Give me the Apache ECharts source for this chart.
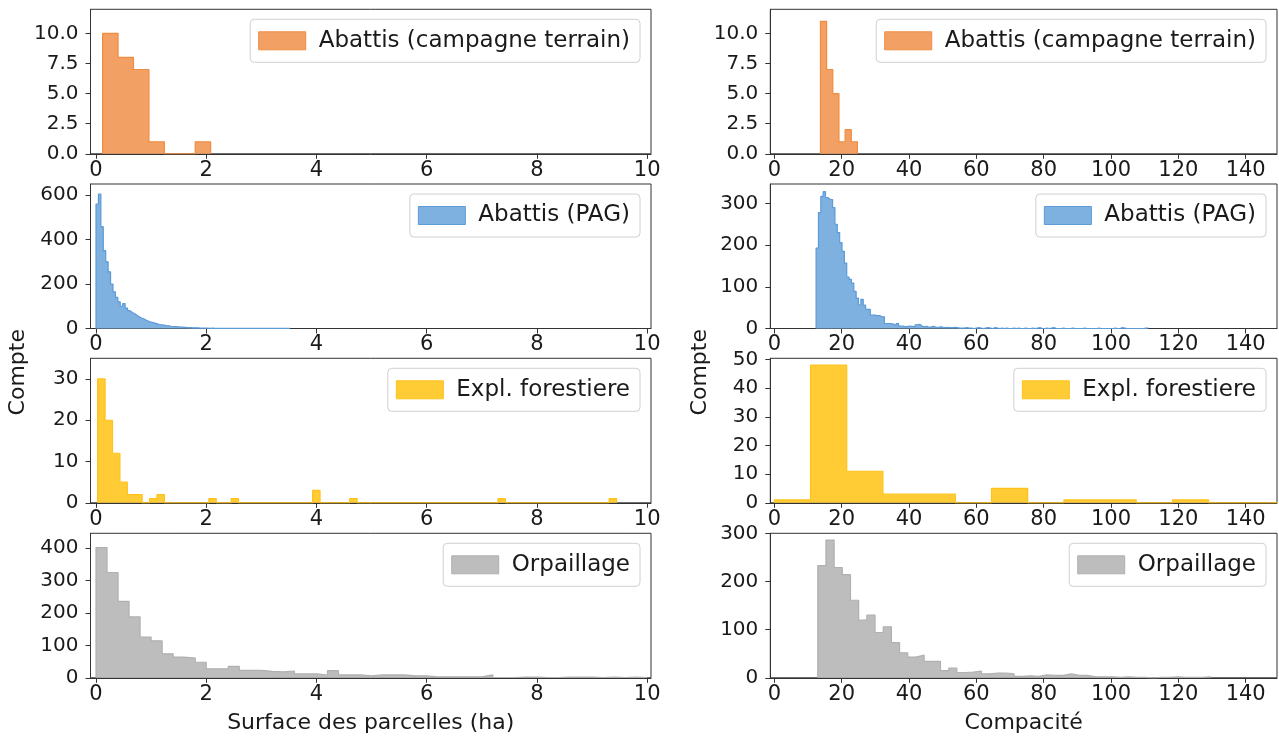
<!DOCTYPE html>
<html><head><meta charset="utf-8">
<script src="https://cdn.jsdelivr.net/npm/echarts@6/dist/echarts.min.js"></script>
<style>html,body{margin:0;padding:0;background:#fff}#c{width:1279px;height:744px}</style>
</head><body><div id="c"></div>
<script>
// ---- names & colours ----
const seriesNames = ['Abattis (campagne terrain)', 'Abattis (PAG)', 'Expl. forestiere', 'Orpaillage'];
const fillColors = ['#f2a064', '#7eb0e0', '#ffcc36', '#bdbdbd'];
const edgeColors = ['#f08c40', '#5b9bd8', '#ffc21a', '#b0b0b0'];

// ---- Surface des parcelles (ha): bin start, bin width, counts ----
const surfCampStart = 0.12, surfCampWidth = 0.28;
const surfCampCounts = [10, 8, 7, 1, 0, 0, 1];

const surfPagStart = 0.0, surfPagWidth = 0.044;
const surfPagCounts = [560, 605, 458, 350, 300, 255, 200, 165, 140, 120, 100, 112, 92, 80, 72, 66, 58, 52, 46, 42,
  36, 31, 28, 25, 22, 19, 17, 15, 13, 12, 10, 9, 8, 7, 6, 6, 5, 4, 4, 3,
  3, 3, 2, 2, 2, 2, 1, 2, 1, 1, 1, 1, 1, 1, 1, 1, 1, 1, 1, 1,
  1, 1, 1, 1, 1, 1, 1, 1, 1, 1, 1, 1, 1, 1, 1, 1, 1, 1, 1, 1];

const surfForStart = 0.03, surfForWidth = 0.1345;
const surfForCounts = [30, 20, 12, 5, 2, 2, 0, 1, 2, 0, 0, 0, 0, 0, 0, 1, 0, 0, 1, 0,
  0, 0, 0, 0, 0, 0, 0, 0, 0, 3, 0, 0, 0, 0, 1, 0, 0, 0, 0, 0,
  0, 0, 0, 0, 0, 0, 0, 0, 0, 0, 0, 0, 0, 0, 1, 0, 0, 0, 0, 0,
  0, 0, 0, 0, 0, 0, 0, 0, 0, 1];

const surfOrpStart = 0.0, surfOrpWidth = 0.2;
const surfOrpCounts = [402, 325, 236, 188, 126, 114, 74, 64, 61, 48, 28, 28, 35, 23, 23, 20, 18, 21, 12, 12,
  8, 22, 9, 9, 6, 9, 9, 9, 6, 6, 3, 3, 3, 3, 3, 9, 1, 1, 2, 2,
  1, 1, 2, 2, 2, 1, 2, 1, 2, 1];

// ---- Compacité: bin start, bin width, counts ----
const compCampStart = 13.7, compCampWidth = 1.83;
const compCampCounts = [11, 7, 5, 1, 2, 1];

const compPagStart = 12.4, compPagWidth = 0.7;
const compPagCounts = [193, 278, 317, 328, 314, 310, 309, 290, 250, 230, 206, 185, 157, 123, 118, 109, 89, 73, 56, 70,
  56, 46, 46, 32, 32, 31, 31, 28, 28, 12, 12, 12, 10, 7, 12, 6, 6, 4,
  5, 6, 5, 4, 9, 10, 6, 4, 5, 3, 4, 5, 3, 3, 4, 3, 2, 3, 2, 2, 3, 2, 1,
  1, 1, 2, 1, 1, 0, 1, 2, 1, 0, 1, 2, 1, 0, 2, 1, 0, 1, 0, 1,
  0, 0, 1, 0, 1, 0, 0, 1, 0, 0, 1, 0, 1, 2, 0, 0, 1, 0, 1, 2,
  0, 0, 0, 1, 0, 0, 0, 1, 0, 0, 0, 0, 1, 0, 0, 0, 0, 0, 1, 0,
  0, 0, 0, 0, 0, 1, 0, 0, 2, 1, 0, 0, 0, 0, 0, 0, 0, 0, 1, 1];

const compForStart = 0.0, compForWidth = 10.75;
const compForCounts = [1, 48, 11, 3, 3, 0, 5, 0, 1, 1, 0, 1, 0, 0];

const compOrpStart = 12.9, compOrpWidth = 2.43;
const compOrpCounts = [233, 286, 229, 214, 161, 120, 130, 94, 106, 73, 52, 43, 47, 34, 34, 15, 20, 11, 12, 14,
  8, 10, 10, 8, 3, 4, 3, 6, 5, 5, 8, 5, 5, 2, 2, 2, 1, 2, 1, 1,
  0, 1, 1, 2, 1, 1, 1, 2];

// ---- ticks ----
const surfTicks = [0, 2, 4, 6, 8, 10];
const compTicks = [0, 20, 40, 60, 80, 100, 120, 140];
const yTicksLeft = [[0, 2.5, 5, 7.5, 10], [0, 200, 400, 600], [0, 10, 20, 30], [0, 100, 200, 300, 400]];
const yTicksRight = [[0, 2.5, 5, 7.5, 10], [0, 100, 200, 300], [0, 10, 20, 30, 40, 50], [0, 100, 200, 300]];
const yMaxLeft = [12, 650, 35, 446];
const yMaxRight = [12, 346.5, 50.4, 300];

const leftHists = [
  [surfCampStart, surfCampWidth, surfCampCounts],
  [surfPagStart, surfPagWidth, surfPagCounts],
  [surfForStart, surfForWidth, surfForCounts],
  [surfOrpStart, surfOrpWidth, surfOrpCounts]
];
const rightHists = [
  [compCampStart, compCampWidth, compCampCounts],
  [compPagStart, compPagWidth, compPagCounts],
  [compForStart, compForWidth, compForCounts],
  [compOrpStart, compOrpWidth, compOrpCounts]
];

function stepPoints(start, width, counts) {
  const pts = [[start, 0]];
  counts.forEach((c, i) => {
    pts.push([start + i * width, c]);
    pts.push([start + (i + 1) * width, c]);
  });
  pts.push([start + counts.length * width, 0]);
  return pts;
}

const FONT = 'DejaVu Sans';
const TXT = '#1a1a1a';
const AX = '#333';
const rowTops = [9.3, 184, 358.3, 533.3];
const rowH = 144.5;
const colLeft = [90.5, 770.3];
const colW = [560.5, 506.7];

const grids = [], xAxes = [], yAxes = [], series = [], legends = [];
for (let r = 0; r < 4; r++) {
  for (let c = 0; c < 2; c++) {
    const gi = grids.length;
    grids.push({left: colLeft[c], top: rowTops[r], width: colW[c], height: rowH,
      show: true, borderColor: AX, borderWidth: 1, containLabel: false});
    const ticksX = c === 0 ? surfTicks : compTicks;
    xAxes.push({
      type: 'value', gridIndex: gi,
      min: c === 0 ? -0.1 : -1.2, max: c === 0 ? 10.07 : 149.3,
      axisLine: {show: true, onZero: false, lineStyle: {color: AX, width: 1}},
      axisTick: {show: true, inside: false, length: 5, customValues: ticksX, lineStyle: {color: AX}},
      axisLabel: {customValues: ticksX, fontFamily: FONT, fontSize: 21, color: TXT, margin: 6},
      splitLine: {show: false},
      name: r === 3 ? (c === 0 ? 'Surface des parcelles (ha)' : 'Compacité') : '',
      nameLocation: 'middle', nameGap: 34,
      nameTextStyle: {fontFamily: FONT, fontSize: 22, color: TXT}
    });
    const ticksY = c === 0 ? yTicksLeft[r] : yTicksRight[r];
    yAxes.push({
      type: 'value', gridIndex: gi, min: 0, max: c === 0 ? yMaxLeft[r] : yMaxRight[r],
      axisLine: {show: true, onZero: false, lineStyle: {color: AX, width: 1}},
      axisTick: {show: true, inside: false, length: 5, customValues: ticksY, lineStyle: {color: AX}},
      axisLabel: {customValues: ticksY, fontFamily: FONT, fontSize: 20, color: TXT, margin: 12,
        formatter: r === 0 ? (v => Number(v).toFixed(1)) : (v => String(v))},
      splitLine: {show: false}
    });
    const h = (c === 0 ? leftHists : rightHists)[r];
    series.push({
      name: seriesNames[r], type: 'line', xAxisIndex: gi, yAxisIndex: gi,
      data: stepPoints(h[0], h[1], h[2]),
      symbol: 'none', silent: true, animation: false, clip: true,
      color: fillColors[r],
      lineStyle: {color: edgeColors[r], width: 1.2},
      areaStyle: {color: fillColors[r], opacity: 1}
    });
    legends.push({
      data: [{name: seriesNames[r], icon: 'rect',
        itemStyle: {color: fillColors[r], borderColor: edgeColors[r], borderWidth: 1}}],
      right: c === 0 ? 639 : 13, top: rowTops[r] + 10,
      orient: 'horizontal', selectedMode: false,
      backgroundColor: '#fff', borderColor: '#d0d0d0', borderWidth: 1, borderRadius: 4,
      padding: [10, 10, 10, 8], itemWidth: 47, itemHeight: 18,
      textStyle: {fontFamily: FONT, fontSize: 23, color: TXT, padding: [0, 0, 0, 8]}
    });
  }
}

const chart = echarts.init(document.getElementById('c'), null, {renderer: 'canvas'});
chart.setOption({
  animation: false,
  backgroundColor: '#fff',
  grid: grids, xAxis: xAxes, yAxis: yAxes, series: series, legend: legends,
  graphic: [
    {type: 'text', left: 7, top: 329, rotation: Math.PI / 2, originX: 0, originY: 0,
      style: {text: 'Compte', font: '22px "DejaVu Sans"', fill: TXT, align: 'center', verticalAlign: 'middle'}},
    {type: 'text', left: 689, top: 329, rotation: Math.PI / 2,
      style: {text: 'Compte', font: '22px "DejaVu Sans"', fill: TXT, align: 'center', verticalAlign: 'middle'}}
  ]
});
</script>
</body></html>
